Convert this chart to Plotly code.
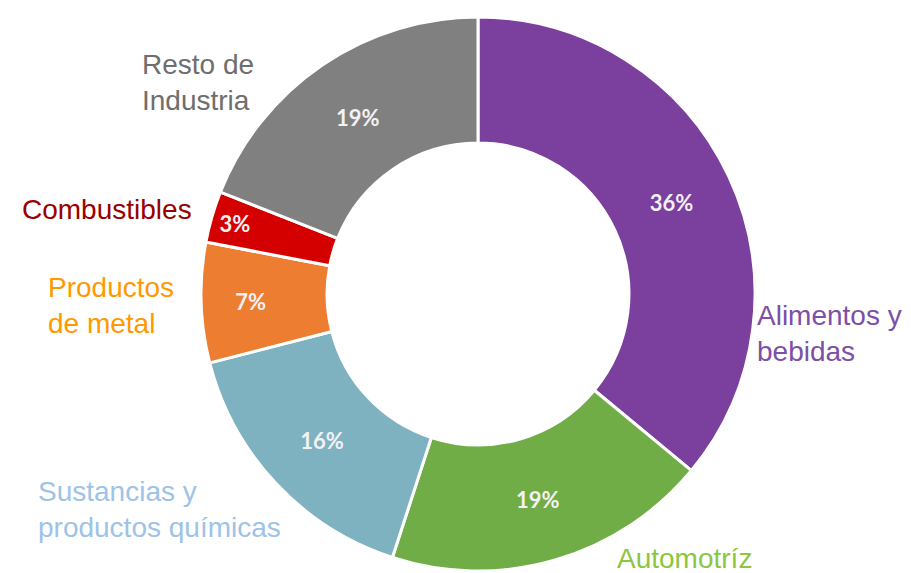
import plotly.graph_objects as go

labels = ["Alimentos y<br>bebidas", "Automotríz", "Sustancias y<br>productos químicas",
          "Productos<br>de metal", "Combustibles", "Resto de<br>Industria"]
values = [36, 19, 16, 7, 3, 19]
slice_colors = ["#7B3F9E", "#70AD47", "#7FB2C0", "#ED7D31", "#D40000", "#808080"]
label_colors = ["#7D4FA6", "#8CC63F", "#9DC3E6", "#FF9900", "#990000", "#6E6E6E"]
# label anchor positions (px from left, px from top) in the screenshot
label_pos = [(757, 333), (617, 558), (38, 509.5), (48, 305.5), (22, 210), (142, 83)]

W, H = 911, 573
OFF = 8  # page body margin
cx, cy, r = 478 - OFF, 294 - OFF, 277

fig = go.Figure(go.Pie(
    labels=labels,
    values=values,
    sort=False,
    direction="clockwise",
    rotation=0,
    hole=0.545,
    marker=dict(colors=slice_colors, line=dict(color="white", width=3)),
    texttemplate="%{value}%",
    textposition="inside",
    insidetextorientation="horizontal",
    textfont=dict(family="Lato, Open Sans, sans-serif", size=22, color="#F4F0F4", weight="bold"),
    showlegend=False,
    domain=dict(x=[(cx - r) / W, (cx + r) / W], y=[(H - cy - r) / H, (H - cy + r) / H]),
))

for lab, col, (px, py) in zip(labels, label_colors, label_pos):
    fig.add_annotation(
        text=lab, x=(px - OFF - 2) / W, y=1 - (py - OFF) / H, xref="paper", yref="paper",
        xanchor="left", yanchor="middle", align="left", showarrow=False,
        font=dict(family="Liberation Sans, Arial, sans-serif", size=28, color=col),
    )

fig.update_layout(
    width=W, height=H,
    margin=dict(l=0, r=0, t=0, b=0),
    paper_bgcolor="white", plot_bgcolor="white",
)

fig.write_html("out.html")
